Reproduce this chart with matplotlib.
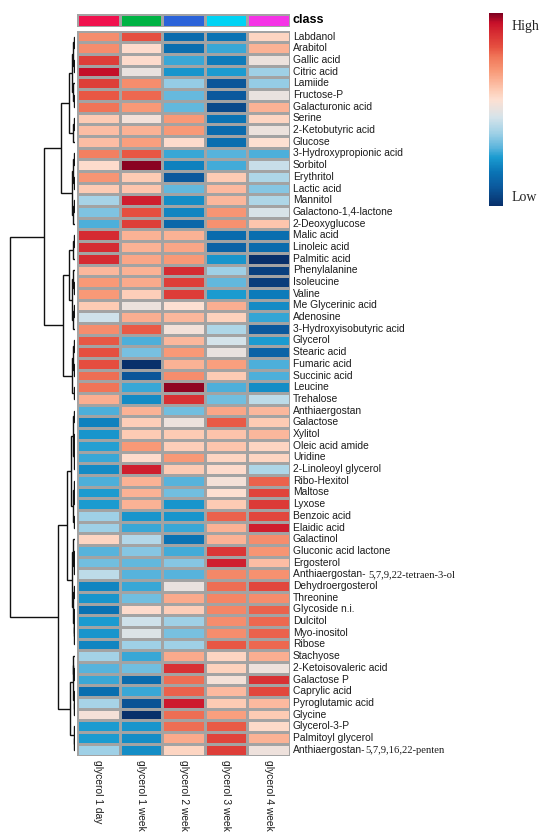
import numpy as np
import matplotlib
matplotlib.use("Agg")
import matplotlib.pyplot as plt
from matplotlib.colors import LinearSegmentedColormap
from matplotlib.cm import ScalarMappable

plt.rcParams['font.family'] = ['Liberation Sans', 'DejaVu Sans']

# ---- data ----
samples = ["glycerol 1 day", "glycerol 1 week", "glycerol 2 week", "glycerol 3 week", "glycerol 4 week"]
class_colors = ["#F0124E", "#00B344", "#2B63D9", "#00D3F4", "#F533E6"]

metabolites = [
    "Labdanol", "Arabitol", "Gallic acid", "Citric acid", "Lamiide", "Fructose-P",
    "Galacturonic acid", "Serine", "2-Ketobutyric acid", "Glucose", "3-Hydroxypropionic acid",
    "Sorbitol", "Erythritol", "Lactic acid", "Mannitol", "Galactono-1,4-lactone",
    "2-Deoxyglucose", "Malic acid", "Linoleic acid", "Palmitic acid", "Phenylalanine",
    "Isoleucine", "Valine", "Me Glycerinic acid", "Adenosine", "3-Hydroxyisobutyric acid",
    "Glycerol", "Stearic acid", "Fumaric acid", "Succinic acid", "Leucine", "Trehalose",
    "Anthiaergostan", "Galactose", "Xylitol", "Oleic acid amide", "Uridine",
    "2-Linoleoyl glycerol", "Ribo-Hexitol", "Maltose", "Lyxose", "Benzoic acid",
    "Elaidic acid", "Galactinol", "Gluconic acid lactone", "Ergosterol",
    "Anthiaergostan- 5,7,9,22-tetraen-3-ol", "Dehydroergosterol", "Threonine",
    "Glycoside n.i.", "Dulcitol", "Myo-inositol", "Ribose", "Stachyose",
    "2-Ketoisovaleric acid", "Galactose P", "Caprylic acid", "Pyroglutamic acid", "Glycine",
    "Glycerol-3-P", "Palmitoyl glycerol", "Anthiaergostan-5,7,9,16,22-penten",
]
# part of a label printed in a serif face
serif_tail = {
    "Anthiaergostan- 5,7,9,22-tetraen-3-ol": "5,7,9,22-tetraen-3-ol",
    "Anthiaergostan-5,7,9,16,22-penten": "5,7,9,16,22-penten",
}

# relative level, -1 = low, 1 = high
levels = [
    [0.45, 0.65, -0.70, -0.65, 0.15],
    [0.45, 0.12, -0.68, -0.45, 0.30],
    [0.72, 0.12, -0.45, -0.62, 0.02],
    [0.90, 0.00, -0.52, -0.50, -0.25],
    [0.72, 0.45, -0.27, -0.82, -0.27],
    [0.63, 0.58, -0.37, -0.80, 0.00],
    [0.55, 0.40, -0.38, -0.87, 0.30],
    [0.20, 0.05, 0.40, -0.65, 0.15],
    [0.25, 0.30, 0.40, -0.70, 0.02],
    [0.25, 0.38, 0.12, -0.68, 0.10],
    [0.50, 0.63, -0.45, -0.40, -0.42],
    [0.12, 0.98, -0.60, -0.43, -0.12],
    [0.42, 0.20, -0.80, 0.20, -0.20],
    [0.20, 0.22, -0.38, 0.27, -0.30],
    [-0.22, 0.85, -0.55, 0.28, -0.20],
    [-0.32, 0.65, -0.58, 0.42, -0.07],
    [-0.42, 0.72, -0.72, 0.43, 0.22],
    [0.80, 0.30, 0.30, -0.70, -0.68],
    [0.80, 0.30, 0.35, -0.75, -0.70],
    [0.80, 0.35, 0.40, -0.52, -1.00],
    [0.28, 0.30, 0.80, -0.25, -0.92],
    [0.40, 0.33, 0.72, -0.38, -0.93],
    [0.40, 0.18, 0.73, -0.50, -0.62],
    [0.20, 0.02, 0.10, 0.32, -0.56],
    [-0.10, 0.32, 0.28, 0.17, -0.46],
    [0.45, 0.62, 0.05, -0.20, -0.80],
    [0.63, -0.42, 0.28, -0.08, -0.50],
    [0.65, -0.33, 0.40, 0.00, -0.75],
    [0.66, -1.00, 0.30, 0.38, -0.42],
    [0.57, -0.82, 0.45, 0.20, -0.42],
    [0.55, -0.45, 0.97, -0.42, -0.55],
    [0.32, -0.56, 0.78, -0.35, -0.15],
    [-0.42, 0.30, -0.35, 0.35, 0.28],
    [-0.60, 0.18, 0.02, 0.62, 0.20],
    [-0.52, 0.20, 0.20, 0.23, 0.28],
    [-0.48, 0.40, 0.18, 0.22, 0.15],
    [-0.45, 0.12, 0.40, 0.15, 0.15],
    [-0.56, 0.85, 0.20, 0.12, -0.20],
    [-0.42, 0.30, -0.40, 0.06, 0.60],
    [-0.50, 0.30, -0.35, 0.10, 0.70],
    [-0.50, 0.30, -0.52, 0.20, 0.74],
    [-0.25, -0.52, -0.52, 0.60, 0.68],
    [-0.25, -0.45, -0.45, 0.30, 0.85],
    [0.15, -0.18, -0.65, 0.30, 0.45],
    [-0.40, -0.30, -0.43, 0.75, 0.42],
    [-0.35, -0.38, -0.30, 0.85, 0.25],
    [-0.15, -0.40, -0.40, 0.47, 0.43],
    [-0.58, -0.45, 0.00, 0.57, 0.68],
    [-0.52, -0.35, 0.33, 0.48, 0.45],
    [-0.66, 0.12, 0.18, 0.48, 0.60],
    [-0.50, -0.10, -0.25, 0.45, 0.58],
    [-0.52, -0.05, -0.33, 0.45, 0.60],
    [-0.58, -0.25, -0.25, 0.63, 0.58],
    [-0.23, -0.45, 0.33, 0.15, 0.32],
    [-0.40, -0.35, 0.78, 0.17, 0.03],
    [-0.45, -0.70, 0.57, 0.06, 0.78],
    [-0.68, -0.45, 0.60, 0.27, 0.68],
    [-0.22, -0.83, 0.86, 0.20, 0.27],
    [0.06, -1.00, 0.57, 0.38, 0.20],
    [-0.50, -0.52, 0.57, 0.62, 0.13],
    [-0.50, -0.55, 0.33, 0.70, 0.30],
    [-0.25, -0.55, 0.15, 0.72, 0.03],
]

# row clustering: (merge height, left, right), leaves are metabolite names
tree_T = (31,
          (14,
           (6,
            (3.0, (2.0, (1.2, "Labdanol", "Arabitol"), (1.0, "Gallic acid", "Citric acid")),
             (2.2, "Lamiide", (1.0, "Fructose-P", "Galacturonic acid"))),
            (2.0, (1.2, "Serine", "2-Ketobutyric acid"), "Glucose")),
           (3.2,
            (1.8, (1.0, "3-Hydroxypropionic acid", "Sorbitol"), (0.9, "Erythritol", "Lactic acid")),
            (1.6, (1.0, "Mannitol", "Galactono-1,4-lactone"), "2-Deoxyglucose"))),
          (12,
           (6.5,
            (1.8, (1.0, "Malic acid", "Linoleic acid"), "Palmitic acid"),
            (3.0, (2.0, "Phenylalanine", (1.0, "Isoleucine", "Valine")),
             (2.2, (1.2, "Me Glycerinic acid", "Adenosine"), "3-Hydroxyisobutyric acid"))),
           (3.0,
            (1.8, (1.0, "Glycerol", "Stearic acid"), (1.2, "Fumaric acid", "Succinic acid")),
            (1.5, "Leucine", "Trehalose"))))
tree_B = (17,
          (8,
           (4.0,
            (2.0, (1.0, "Anthiaergostan", "Galactose"),
             (1.5, (1.0, "Xylitol", (0.6, "Oleic acid amide", "Uridine")), "2-Linoleoyl glycerol")),
            (2.2, (1.2, "Ribo-Hexitol", (0.7, "Maltose", "Lyxose")), (1.0, "Benzoic acid", "Elaidic acid"))),
           (3.0,
            (1.8, "Galactinol",
             (1.2, (0.7, "Gluconic acid lactone", "Ergosterol"), "Anthiaergostan- 5,7,9,22-tetraen-3-ol")),
            (2.0, (1.1, "Dehydroergosterol", "Threonine"),
             (1.4, "Glycoside n.i.", (0.9, (0.6, "Dulcitol", "Myo-inositol"), "Ribose"))))),
          (5.5,
           (2.5,
            (1.6, "Stachyose", (1.0, "2-Ketoisovaleric acid", "Galactose P")),
            (1.4, "Caprylic acid", (1.0, "Pyroglutamic acid", "Glycine"))),
           (1.5, "Glycerol-3-P", (0.8, "Palmitoyl glycerol", "Anthiaergostan-5,7,9,16,22-penten"))))
row_tree = (65, tree_T, tree_B)

# ---- figure ----
W, H = 550, 839
fig = plt.figure(figsize=(W / 100, H / 100), dpi=100, facecolor="white")

def px_axes(x0, y0, x1, y1):
    return fig.add_axes([x0 / W, 1 - y1 / H, (x1 - x0) / W, (y1 - y0) / H])

cmap = LinearSegmentedColormap.from_list("hl", [
    (0.000, "#08306B"), (0.100, "#0B5A9E"), (0.175, "#0A74B5"), (0.250, "#1A9AD0"),
    (0.300, "#5AB4DC"), (0.375, "#9ED0E6"), (0.460, "#D5E3EA"), (0.500, "#E8E2E0"),
    (0.550, "#FDE0D2"), (0.600, "#FDCBB4"), (0.650, "#FBB296"), (0.700, "#F89A78"),
    (0.775, "#F07558"), (0.825, "#E65040"), (0.900, "#D62C32"), (0.950, "#C8102A"),
    (1.000, "#7F0020")])

vals = np.array(levels)
nrow, ncol = vals.shape
top, bottom, left, right = 30.7, 755.5, 77, 290
grid = "#A3A3A3"

ax = px_axes(left, top, right, bottom)
ax.pcolormesh(vals, cmap=cmap, vmin=-1, vmax=1, edgecolors=grid, linewidth=0.9)
ax.set_xlim(0, ncol)
ax.set_ylim(nrow, 0)
ax.set_axis_off()

txt_color = "#1c1c1c"
for i, name in enumerate(metabolites):
    tail = serif_tail.get(name)
    head = name[:len(name) - len(tail)] if tail else name
    t = ax.text(ncol + 0.07, i + 0.5, head, fontsize=7.4, color=txt_color, va="center", ha="left")
    if tail:
        ax.annotate(tail, xy=(1, 0), xycoords=t, va="bottom", ha="left", fontsize=7.6,
                    color=txt_color, family="Liberation Serif")

for j, s in enumerate(samples):
    ax.text(j + 0.5, nrow + 0.35, s, rotation=270, fontsize=7.4, color=txt_color,
            ha="center", va="top")

# class annotation bar
cax_cls = px_axes(left, 14, right, 26.7)
from matplotlib.colors import ListedColormap
cax_cls.pcolormesh(np.arange(ncol)[None, :], cmap=ListedColormap(class_colors),
                   vmin=-0.5, vmax=ncol - 0.5, edgecolors=grid, linewidth=0.9)
cax_cls.set_xlim(0, ncol)
cax_cls.set_axis_off()
cax_cls.text(ncol + 0.07, 0.5, "class", fontsize=9, fontweight="bold", color="black",
             va="center", ha="left")

# row dendrogram
dax = px_axes(0, top, 75, bottom)
pos = {name: i + 0.5 for i, name in enumerate(metabolites)}

def draw(node):
    if isinstance(node, str):
        return pos[node], 0.0
    h, a, b = node
    ya, ha = draw(a)
    yb, hb = draw(b)
    dax.plot([ha, h, h, hb], [ya, ya, yb, yb], color="#111111", lw=1.0,
             solid_joinstyle="miter", solid_capstyle="butt")
    return (ya + yb) / 2, h

draw(row_tree)
dax.set_xlim(75, 0)
dax.set_ylim(nrow, 0)
dax.set_axis_off()

# colour key
kax = px_axes(489, 13, 503, 206)
sm = ScalarMappable(cmap=cmap, norm=plt.Normalize(-1, 1))
cb = fig.colorbar(sm, cax=kax)
cb.outline.set_visible(False)
cb.set_ticks([0.88, -0.9])
cb.set_ticklabels(["High", "Low"])
kax.tick_params(length=0, pad=6, labelsize=10)
for lab in kax.get_yticklabels():
    lab.set_family("Liberation Serif")
    lab.set_color("#222222")

plt.savefig("out.png", dpi=100, facecolor="white")
